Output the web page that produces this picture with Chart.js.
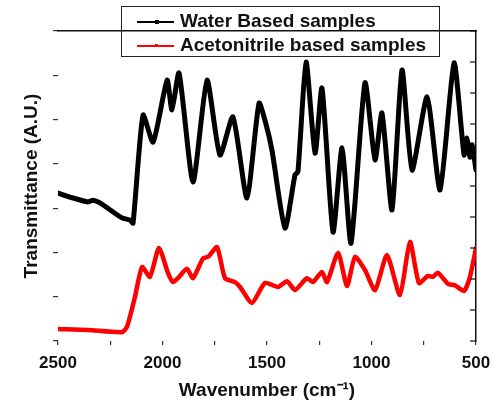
<!DOCTYPE html>
<html>
<head>
<meta charset="utf-8">
<script src="https://cdn.jsdelivr.net/npm/chart.js@4"></script>
<style>
  body { margin: 0; background: #fff; }
  #wrap { position: relative; width: 494px; height: 406px; }
  #legend { position: absolute; left: 121px; top: 6px; width: 317px; height: 49px;
            border: 1.5px solid #222; font: bold 19px "Liberation Sans", Arial, sans-serif; }
  .row { position: absolute; left: 0; height: 24px; line-height: 24px; }
  .mark { position: absolute; left: 15px; top: 12px; width: 37px; height: 1.5px; }
  .dot { position: absolute; left: 18px; top: -1px; width: 4px; height: 4px; }
  .txt { position: absolute; left: 58px; white-space: nowrap; color: #111; }
</style>
</head>
<body>
<div id="wrap">
  <canvas id="IrChart" width="494" height="406"></canvas>
  <div id="legend"></div>
</div>
<script>
// wavenumbers (cm-1) and transmittance (offset, arbitrary units)
const waterWn = [2500, 2443, 2356, 2333, 2299, 2194, 2155, 2141, 2093, 2045, 1978, 1955, 1921, 1854, 1787, 1725, 1663, 1596, 1538, 1505, 1476, 1414, 1366, 1352, 1313, 1270, 1237, 1184, 1141, 1098, 1031, 983, 950, 902, 854, 806, 734, 672, 605, 557, 543, 529, 519, 500]
const waterT  = [3.34, 3.25, 3.14, 3.18, 3.12, 2.78, 2.73, 2.66, 5.10, 4.49, 5.89, 5.22, 6.05, 3.59, 5.89, 4.20, 5.06, 3.23, 5.37, 4.90, 4.30, 2.55, 3.75, 3.82, 6.30, 4.24, 5.71, 2.46, 4.36, 2.21, 5.83, 4.09, 5.15, 2.96, 6.12, 3.86, 5.51, 3.41, 6.28, 4.20, 4.58, 4.15, 4.43, 3.86]

const acnWn = [2500, 2356, 2194, 2170, 2132, 2098, 2060, 2017, 1974, 1950, 1926, 1883, 1854, 1806, 1782, 1739, 1701, 1653, 1629, 1572, 1510, 1447, 1404, 1366, 1309, 1280, 1237, 1213, 1160, 1117, 1079, 1031, 983, 926, 864, 816, 773, 730, 706, 682, 634, 601, 557, 529, 500]
const acnT  = [0.27, 0.25, 0.20, 0.32, 0.99, 1.67, 1.45, 2.10, 1.54, 1.33, 1.42, 1.63, 1.42, 1.87, 1.90, 2.12, 1.42, 1.33, 1.22, 0.86, 1.31, 1.22, 1.35, 1.15, 1.42, 1.33, 1.56, 1.33, 1.99, 1.24, 1.90, 1.60, 1.15, 1.94, 1.04, 2.24, 1.31, 1.47, 1.45, 1.54, 1.29, 1.26, 1.13, 1.45, 2.10]

const seriesNames = ['Water Based samples', 'Acetonitrile based samples']
const seriesColors = ['#000000', '#ff0000']
const xTickLabels = [2500, 2000, 1500, 1000, 500]

const FONT = '"Liberation Sans", Arial, sans-serif'

function toPoints(xs, ys){
    return xs.map((x, i) => ({x: x, y: ys[i]}))
}

// right axis has its ticks pointing into the plot
const innerTicks = {
    id: 'innerTicks',
    afterDraw(chart){
        const ctx = chart.ctx
        const s = chart.scales.y2
        ctx.save()
        ctx.strokeStyle = '#111'
        ctx.lineWidth = 1.2
        s.ticks.forEach(t => {
            const py = s.getPixelForValue(t.value)
            ctx.beginPath()
            ctx.moveTo(s.left - 6, py)
            ctx.lineTo(s.left, py)
            ctx.stroke()
        })
        ctx.restore()
    }
}

const chart = new Chart('IrChart', {
    type: 'line',
    data: {
        datasets: [
            {label: seriesNames[0], data: toPoints(waterWn, waterT), borderColor: seriesColors[0], borderWidth: 5, tension: 0.2},
            {label: seriesNames[1], data: toPoints(acnWn, acnT), borderColor: seriesColors[1], borderWidth: 4.5, tension: 0.2}
        ]
    },
    options: {
        responsive: false,
        animation: false,
        layout: {padding: 0},
        elements: {point: {radius: 0}, line: {borderJoinStyle: 'round', borderCapStyle: 'round'}},
        plugins: {legend: {display: false}, tooltip: {enabled: false}},
        scales: {
            x: {
                type: 'linear', min: 500, max: 2500, reverse: true,
                border: {display: false},
                grid: {drawOnChartArea: false, drawTicks: true, tickLength: 4, color: '#333', lineWidth: 1.2},
                ticks: {
                    stepSize: 250, autoSkip: false, maxRotation: 0, padding: 8, color: '#111',
                    font: {family: FONT, size: 17, weight: 'bold'},
                    callback: v => xTickLabels.includes(v) ? String(v) : ''
                },
                title: {display: true, text: 'Wavenumber (cm\u207B\u00B9)', color: '#111', padding: {top: 9},
                        font: {family: FONT, size: 19, weight: 'bold'}},
                // end labels may hang past the plot, as in the figure
                afterFit: s => { s.height = 65; s.paddingLeft = 0; s.paddingRight = 0 }
            },
            x2: {
                type: 'linear', position: 'top', min: 500, max: 2500, reverse: true,
                border: {display: true, color: '#111', width: 1.5},
                grid: {display: false},
                ticks: {display: false},
                afterFit: s => { s.height = 31 }
            },
            y: {
                min: 0, max: 7,
                border: {display: false},
                grid: {drawOnChartArea: false, drawTicks: true, tickLength: 5, color: '#333', lineWidth: 1.2},
                ticks: {display: false, stepSize: 1},
                title: {display: true, text: 'Transmittance (A.U.)', color: '#111', padding: {top: 20, bottom: 0},
                        font: {family: FONT, size: 19, weight: 'bold'}},
                afterFit: s => { s.width = 58 }
            },
            y2: {
                position: 'right', min: 0, max: 10,
                border: {display: true, color: '#111', width: 1.5},
                grid: {display: false},
                ticks: {display: false, stepSize: 1},
                afterFit: s => { s.width = 18 }
            }
        }
    },
    plugins: [innerTicks]
})

// legend drawn over the plot like in the figure
const legend = document.getElementById('legend')
chart.data.datasets.forEach((ds, i) => {
    const row = document.createElement('div')
    row.className = 'row'
    row.style.top = (2 + i * 24) + 'px'
    row.innerHTML = '<div class="mark" style="background:' + ds.borderColor + '"><div class="dot" style="background:' +
        ds.borderColor + (i ? ';width:3px;height:3px' : '') + '"></div></div><div class="txt">' + ds.label + '</div>'
    legend.appendChild(row)
})
</script>
</body>
</html>
